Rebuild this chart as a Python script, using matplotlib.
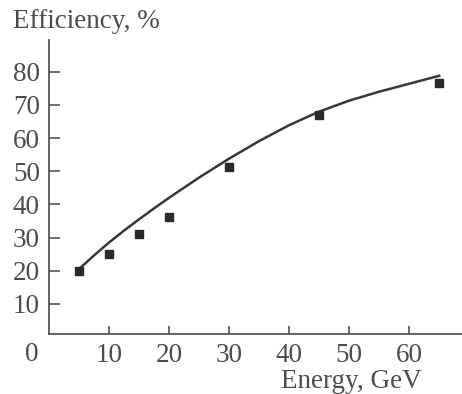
import matplotlib.pyplot as plt

# Measured efficiency vs beam energy
energy = [5, 10, 15, 20, 30, 45, 65]
efficiency = [20, 25, 31, 36.3, 51.3, 67, 76.6]

# Calculated curve
curve_energy = [5, 7.5, 10, 12.5, 15, 17.5, 20, 25, 30, 35, 40, 45, 50, 55, 60, 65]
curve_eff = [20.5, 24.6, 28.5, 32.1, 35.5, 38.8, 42, 48.1, 53.8, 59.1, 63.9,
             68.0, 71.3, 74.0, 76.4, 78.8]

x_ticks = [10, 20, 30, 40, 50, 60]
y_ticks = [10, 20, 30, 40, 50, 60, 70, 80]

text_color = "#4c4c4c"
axis_color = "#555555"
font = "Liberation Serif"
fs = 19.5

fig = plt.figure(figsize=(4.62, 3.94), dpi=100)
ax = fig.add_axes([49 / 462, 60 / 394, 413 / 462, 294 / 394])

ax.plot(curve_energy, curve_eff, color="#383838", linewidth=1.8,
        solid_joinstyle="round")
ax.plot(energy, efficiency, linestyle="none", marker="s", markersize=6,
        color="#2a2a2a")

ax.set_xlim(0, 68.8)
ax.set_ylim(0.9, 89.6)

for side in ("top", "right"):
    ax.spines[side].set_visible(False)
for side in ("left", "bottom"):
    ax.spines[side].set_color(axis_color)
    ax.spines[side].set_linewidth(1.3)

ax.set_xticks(x_ticks)
ax.set_yticks(y_ticks)
ax.set_xticklabels([str(t) for t in x_ticks], fontfamily=font, fontsize=fs,
                   color=text_color)
ax.set_yticklabels([str(t) for t in y_ticks], fontfamily=font, fontsize=fs,
                   color=text_color)
ax.tick_params(axis="y", direction="in", length=8, width=1.2, color=axis_color,
               pad=6.5)
ax.tick_params(axis="x", direction="in", length=6, width=1.2, color=axis_color,
               pad=6.5)

# origin label sits apart, below-left of the corner
ax.text(-1.8, -1.5, "0", transform=ax.transData, ha="right", va="top",
        fontfamily=font, fontsize=fs, color=text_color, clip_on=False)

fig.text(13 / 462, 1 - 22 / 394, "Efficiency, %", ha="left", va="center",
         fontfamily=font, fontsize=fs, color=text_color)
fig.text(351 / 462, 1 - 381 / 394, "Energy, GeV", ha="center", va="center",
         fontfamily=font, fontsize=fs, color=text_color)

fig.savefig("out.png", dpi=100, facecolor="white")
